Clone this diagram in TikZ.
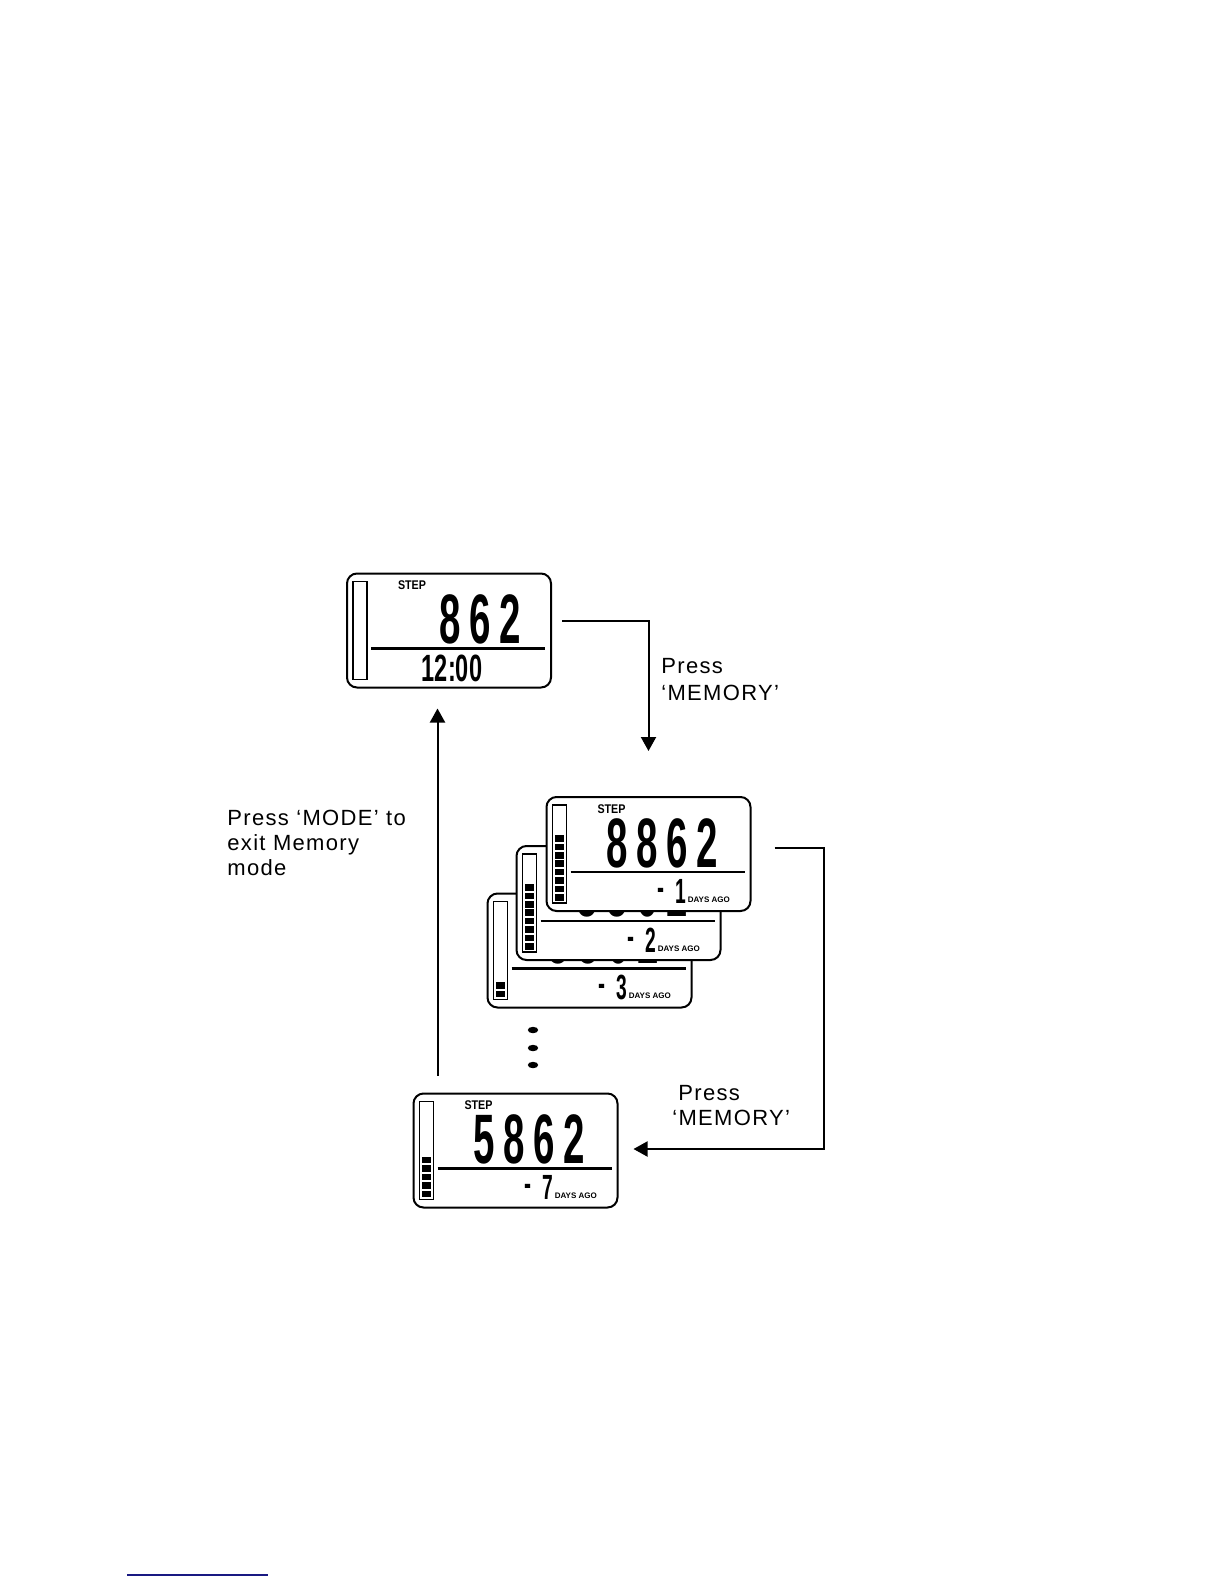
\documentclass[tikz,border=0pt]{standalone}
\usepackage{fontspec}
\setmainfont{Liberation Sans}
\usepackage{graphicx}
\usepackage{xcolor}
\usepackage{tikz}
\usetikzlibrary{arrows.meta,positioning}

\definecolor{linkblue}{RGB}{25,25,130}
\newcommand\segdigit[2]{\scalebox{#1}[1]{#2}}

% one display: frame node #1, #2 filled bars, big digits #3, first digit centre #4
\newcommand\lcdface[4]{%
  \begin{scope}[shift={(#1.north west)}]
    \draw[line width=0.9pt] (7,9) rectangle (21,107);
    \ifnum#2>0
      \foreach \b in {1,...,#2}
        \fill (9.5,{104.5-8.4*(\b-1)}) rectangle (18.5,{98-8.4*(\b-1)});
    \fi
    \draw[line width=1.2pt] (25,76) -- (199,76);
    \node[steplbl] at (66,13) {\segdigit{0.85}{STEP}};
    \foreach \d [count=\i from 0] in {#3}
      \node[bigdig] at ({#4+30*\i},71) {\segdigit{0.55}{\d}};
  \end{scope}}

\newcommand\daysago[2]{%
  \begin{scope}[shift={(#1.north west)}]
    \node[smalldig] at (115,103) {\segdigit{0.6}{-}};
    \node[smalldig] at (135,107) {\segdigit{0.55}{#2}};
    \node[agolbl] at (142,106) {DAYS AGO};
  \end{scope}}

\begin{document}
\begin{tikzpicture}[x=0.5pt,y=-0.5pt,
  lcd/.style={draw,line width=1pt,rounded corners=5pt,fill=white,minimum width=102pt,minimum height=57pt,inner sep=0pt},
  bigdig/.style={inner sep=0pt,anchor=base,font=\fontsize{35}{35}\selectfont\bfseries},
  smalldig/.style={inner sep=0pt,anchor=base,font=\fontsize{17.5}{17.5}\selectfont\bfseries},
  steplbl/.style={inner sep=0pt,font=\fontsize{6.3}{7}\selectfont\bfseries},
  agolbl/.style={inner sep=0pt,anchor=base west,font=\fontsize{4}{4}\selectfont\bfseries},
  note/.style={align=left,inner sep=0pt,anchor=base west,font=\fontsize{11}{12.5}\selectfont\addfontfeature{LetterSpace=6}},
  arr/.style={-{Triangle[length=7pt,width=7.5pt]},line width=1pt}
]
\useasboundingbox (0,0) rectangle (1224,1584);

% current display
\node[lcd] (now) at (449,630.5) {};
\lcdface{now}{0}{8,6,2}{104}
\begin{scope}[shift={(now.north west)}]
  \node[smalldig,font=\fontsize{19}{19}\selectfont\bfseries] (clock) at (106,109) {\segdigit{0.62}{12:00}};
\end{scope}

% memory stack, back to front
\node[lcd] (day3) at (589.5,950.5) {};
\lcdface{day3}{2}{8,8,6,2}{72}
\daysago{day3}{3}
\node[lcd] (day2) at (618.5,903) {};
\lcdface{day2}{8}{8,8,6,2}{72}
\daysago{day2}{2}
\node[lcd] (day1) at (648.5,854) {};
\lcdface{day1}{8}{8,8,6,2}{72}
\daysago{day1}{1}

\fill (533,1030) ellipse [x radius=2.6pt,y radius=1.6pt];
\fill (533,1048) ellipse [x radius=2.6pt,y radius=1.6pt];
\fill (533,1065) ellipse [x radius=2.6pt,y radius=1.6pt];

\node[lcd] (day7) at (515.5,1150.5) {};
\lcdface{day7}{5}{5,8,6,2}{72}
\daysago{day7}{7}

% notes
\node[note,font=\fontsize{11}{13.5}\selectfont\addfontfeature{LetterSpace=6}] (memnote) at (661,700) {Press\\‘MEMORY’};
\node[note] (memnote2) at (672,1125) {\hspace{3pt}Press\\‘MEMORY’};
\node[note] (modenote) at (227,875) {Press ‘MODE’ to\\exit Memory\\mode};

% connectors
\draw[arr] ([xshift=5pt,yshift=4.75pt]now.east) -| ([yshift=22.5pt]day1.north);
\draw[arr] ([xshift=11.5pt,yshift=3pt]day1.east) -- ++(24.5pt,0) |- ([xshift=7.5pt,yshift=0.75pt]day7.east);
\draw[arr] ([xshift=12.5pt,yshift=8.5pt]day7.north west) -- ([xshift=12.5pt,yshift=-10pt]day7.north west |- now.south);

\draw[linkblue,line width=0.7pt] (127,1575) -- (268,1575);
\end{tikzpicture}
\end{document}
